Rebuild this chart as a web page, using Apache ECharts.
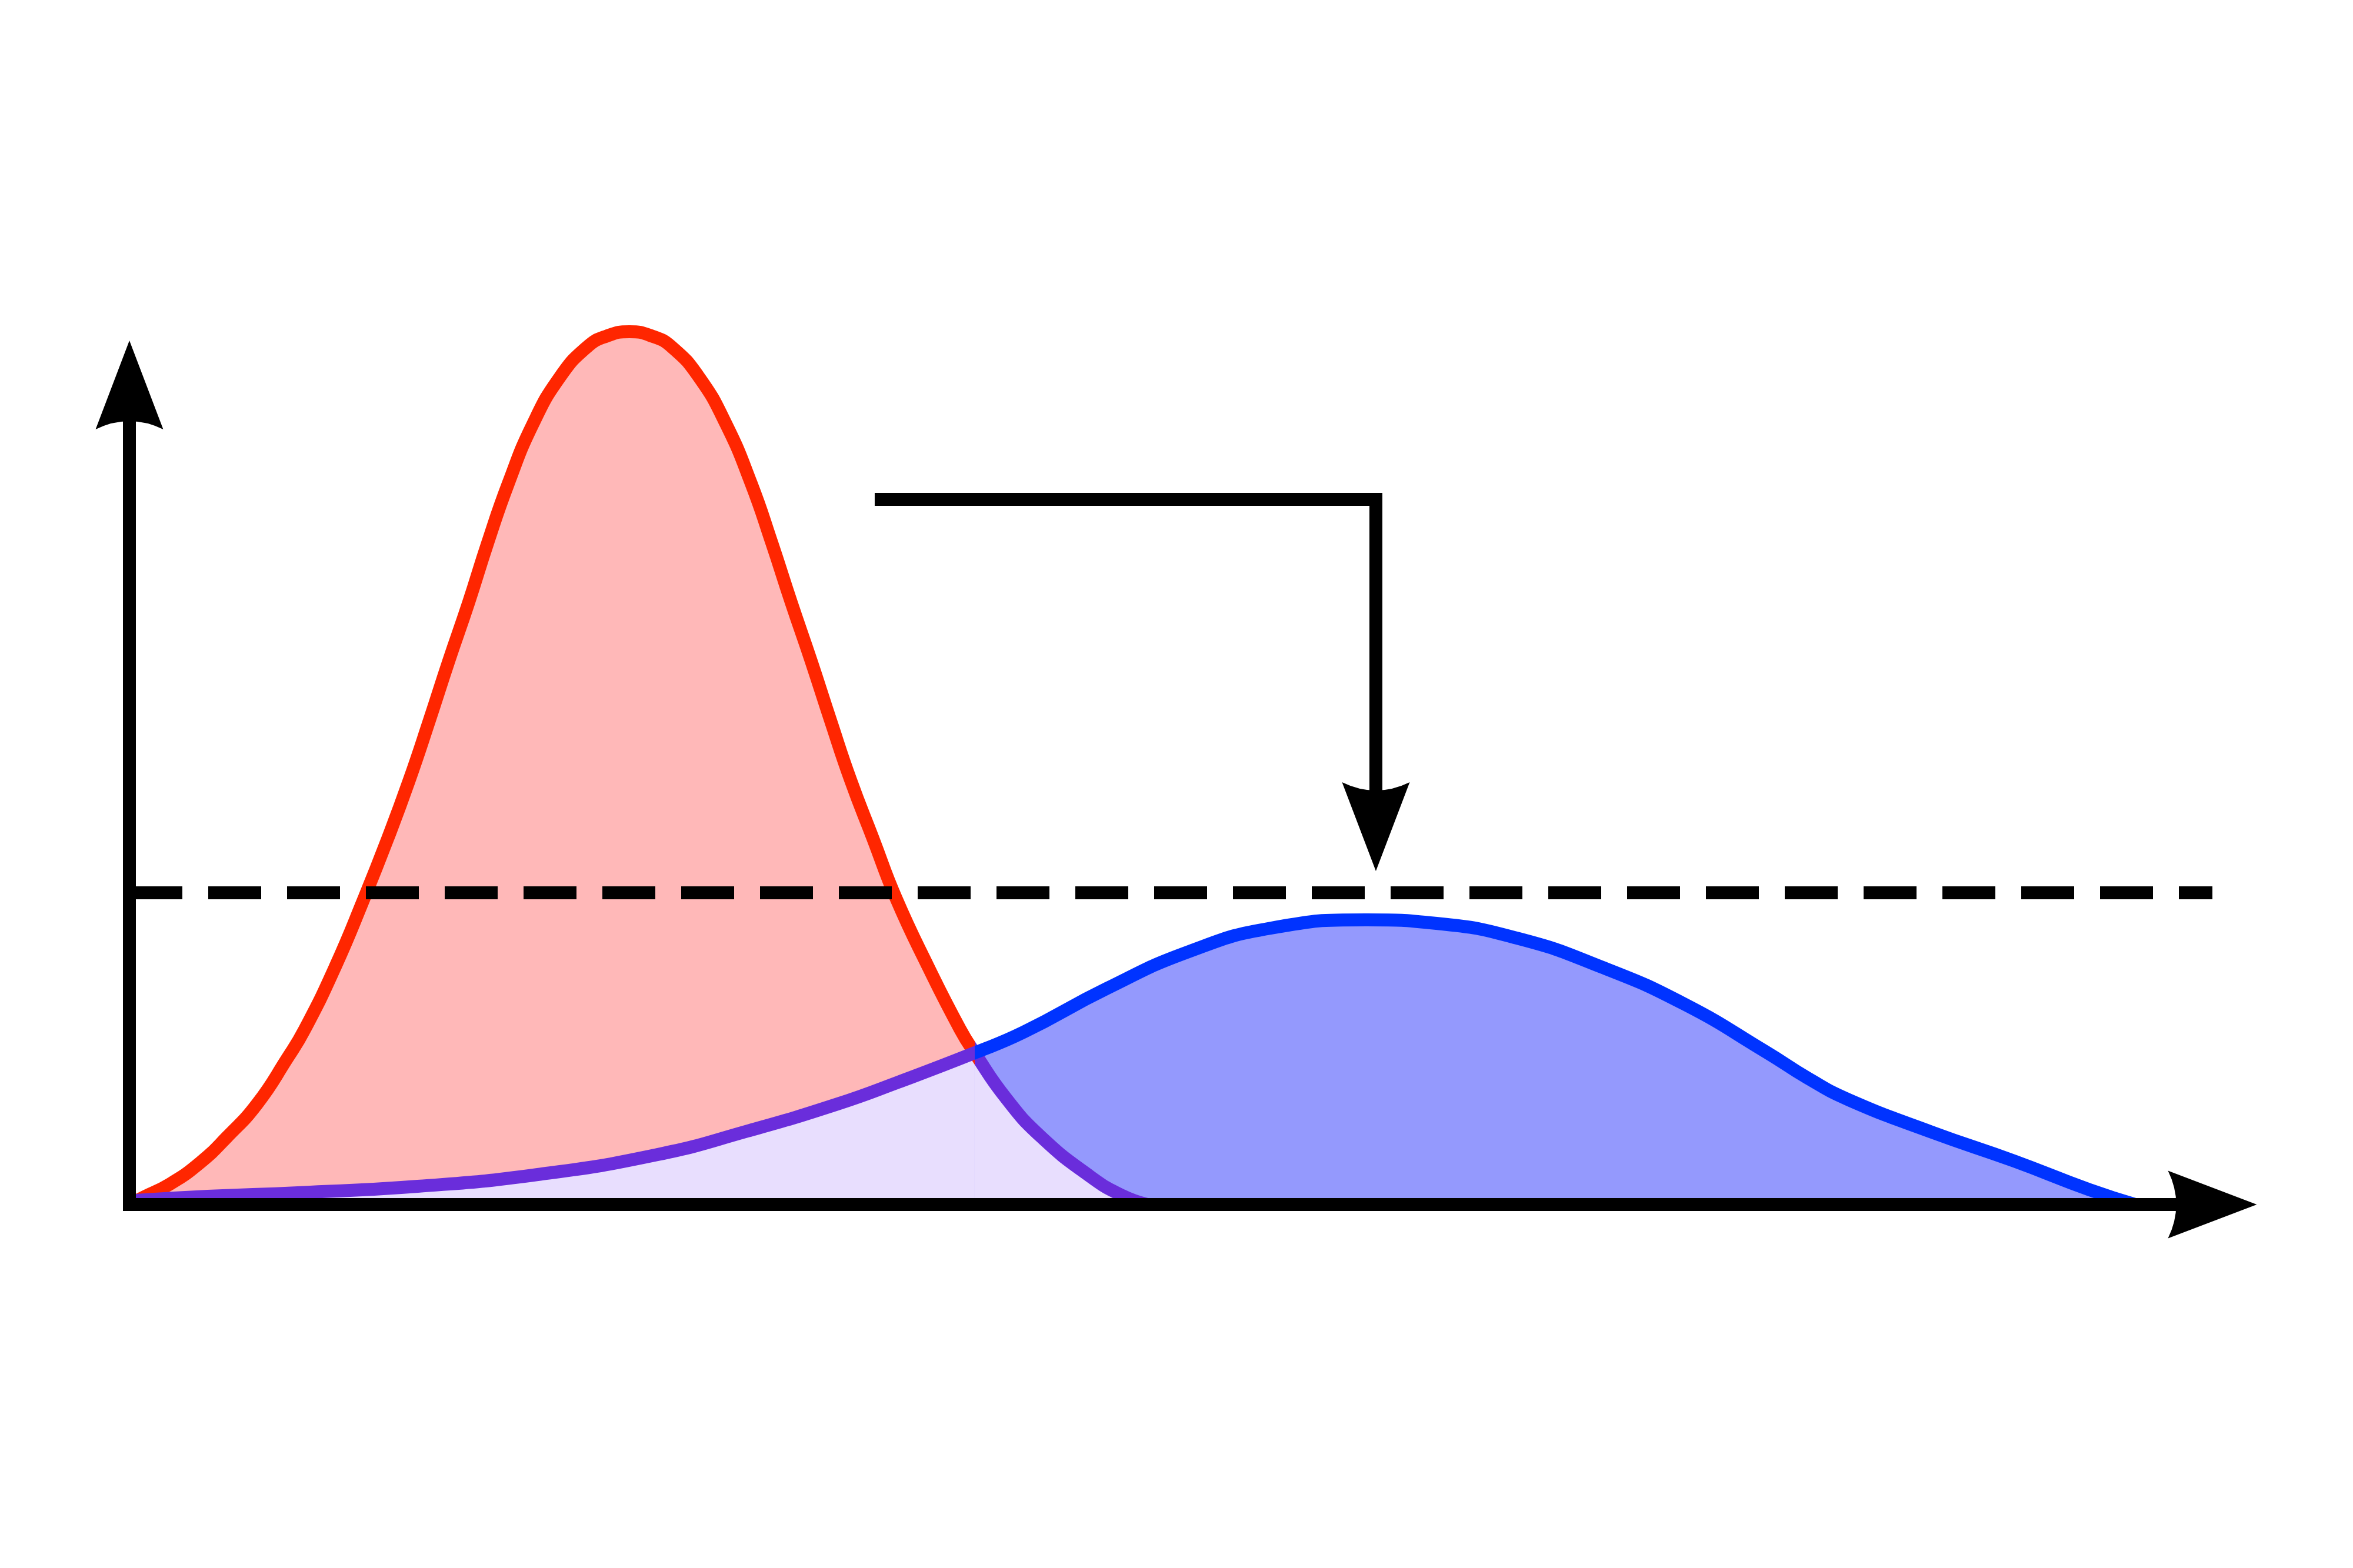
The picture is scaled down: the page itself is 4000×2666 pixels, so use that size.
<!DOCTYPE html>
<html>
<head>
<meta charset="utf-8">
<script src="https://cdn.jsdelivr.net/npm/echarts@6/dist/echarts.min.js"></script>
<style>
html,body{margin:0;padding:0;background:#ffffff;}
#chart{width:4000px;height:2666px;}
</style>
</head>
<body>
<div id="chart"></div>
<script>
// Unmitigated outbreak curve (x, y)
const redCurve = [[0,0],[0.65,0.86],[1.95,2.51],[3.39,5.10],[4.69,8.25],[6.13,12.27],[7.57,17.80],[8.42,21.39],[9.88,29.0],[11.27,37.39],[12.40,44.64],[13.44,51.81],[14.40,59.06],[15.33,66.31],[16.29,73.48],[17.20,80.73],[18.19,87.98],[19.37,95.23],[20.67,100.97],[21.97,104.63],[22.90,105.95],[24.00,106.5],[25.10,105.95],[26.04,104.63],[27.34,100.97],[28.64,95.23],[29.85,87.98],[30.84,80.73],[31.77,73.48],[32.73,66.31],[33.66,59.06],[34.62,51.81],[35.70,44.64],[36.80,37.39],[38.35,28.99],[39.88,21.39],[40.58,18.51],[42.08,12.99],[43.77,8.25],[46.12,3.44],[47.67,1.08],[48.86,0]];
// Flattened curve (x, y)
const blueCurve = [[0.3,0.5],[3.76,1.0],[8.08,1.44],[13.84,2.22],[19.60,3.66],[25.36,6.10],[29.68,8.97],[34.00,12.27],[36.91,14.93],[40.58,18.51],[42.93,21.03],[46.91,26.34],[50.86,30.86],[54.81,33.73],[59.39,34.73],[62.75,34.30],[66.70,32.44],[70.66,28.99],[74.64,24.47],[78.59,18.59],[80.57,15.43],[82.55,12.77],[86.53,8.83],[90.48,5.31],[94.1,1.8],[96.3,0]];
// where the two curves cross
const crossX = 40.58;
// healthcare capacity line
const capacityLine = [[0,38.03],[100,38.03]];
// bent annotation arrow path (start, corner, head)
const arrowPath = [[35.78,86.04],[59.84,86.04],[59.84,46.11]];
const arrowHead = [[59.84,46.11]];

const lavenderLeft = blueCurve.filter(p => p[0] <= crossX);
const lavenderRight = redCurve.filter(p => p[0] >= crossX);

const RED = '#FF2600', BLUE = '#0033FF', PURPLE = '#6A2DDB';
const PINK = '#FFB8B8', BLUEFILL = '#9499FD', LAVENDER = '#E8DEFE';
const ARROW = 'path://M57.5 0 L115 151 Q57.5 123 0 151 Z';
const LW = 22;

const chart = echarts.init(document.getElementById('chart'), null, {renderer: 'canvas'});
const noLine = {opacity: 0, width: 0};
chart.setOption({
  backgroundColor: '#ffffff',
  animation: false,
  grid: {left: 220, right: 239, top: 654.5, bottom: 618, containLabel: false},
  xAxis: {
    type: 'value', min: 0, max: 100, z: 20,
    axisLine: {show: true, onZero: false, symbol: ['none', ARROW], symbolSize: [115, 152],
      lineStyle: {color: '#000', width: 22, cap: 'square'}},
    axisTick: {show: false}, axisLabel: {show: false}, splitLine: {show: false}
  },
  yAxis: {
    type: 'value', min: 0, max: 100, z: 20,
    axisLine: {show: true, onZero: false, symbol: ['none', ARROW], symbolSize: [115, 152],
      lineStyle: {color: '#000', width: 22, cap: 'square'}},
    axisTick: {show: false}, axisLabel: {show: false}, splitLine: {show: false}
  },
  visualMap: [
    {type: 'piecewise', show: false, dimension: 0, seriesIndex: 4,
      pieces: [{min: -50, max: crossX, color: RED}, {min: crossX, max: 150, color: PURPLE}]},
    {type: 'piecewise', show: false, dimension: 0, seriesIndex: 5,
      pieces: [{min: -50, max: crossX, color: PURPLE}, {min: crossX, max: 150, color: BLUE}]}
  ],
  series: [
    {type: 'line', data: redCurve, smooth: 0.5, symbol: 'none', clip: false, z: 1,
      lineStyle: noLine, areaStyle: {color: PINK, opacity: 1}},
    {type: 'line', data: blueCurve, smooth: 0.5, symbol: 'none', clip: false, z: 2,
      lineStyle: noLine, areaStyle: {color: BLUEFILL, opacity: 1}},
    {type: 'line', data: lavenderLeft, smooth: 0.5, symbol: 'none', clip: false, z: 3,
      lineStyle: noLine, areaStyle: {color: LAVENDER, opacity: 1}},
    {type: 'line', data: lavenderRight, smooth: 0.5, symbol: 'none', clip: false, z: 3,
      lineStyle: noLine, areaStyle: {color: LAVENDER, opacity: 1}},
    {type: 'line', data: redCurve, smooth: 0.5, symbol: 'none', clip: false, z: 4,
      lineStyle: {width: LW, cap: 'butt', join: 'round'}},
    {type: 'line', data: blueCurve, smooth: 0.5, symbol: 'none', clip: false, z: 5,
      lineStyle: {width: LW, cap: 'butt', join: 'round'}},
    {type: 'line', data: capacityLine, symbol: 'none', clip: false, z: 6,
      lineStyle: {color: '#000', width: 22, type: [90, 44], cap: 'butt'}},
    {type: 'line', data: arrowPath, symbol: 'none', clip: false, z: 7,
      lineStyle: {color: '#000', width: 22, cap: 'butt', join: 'miter'}},
    {type: 'scatter', data: arrowHead, symbol: ARROW, symbolSize: [115, 151], symbolRotate: 180,
      clip: false, z: 8, itemStyle: {color: '#000', opacity: 1}}
  ]
});
</script>
</body>
</html>
